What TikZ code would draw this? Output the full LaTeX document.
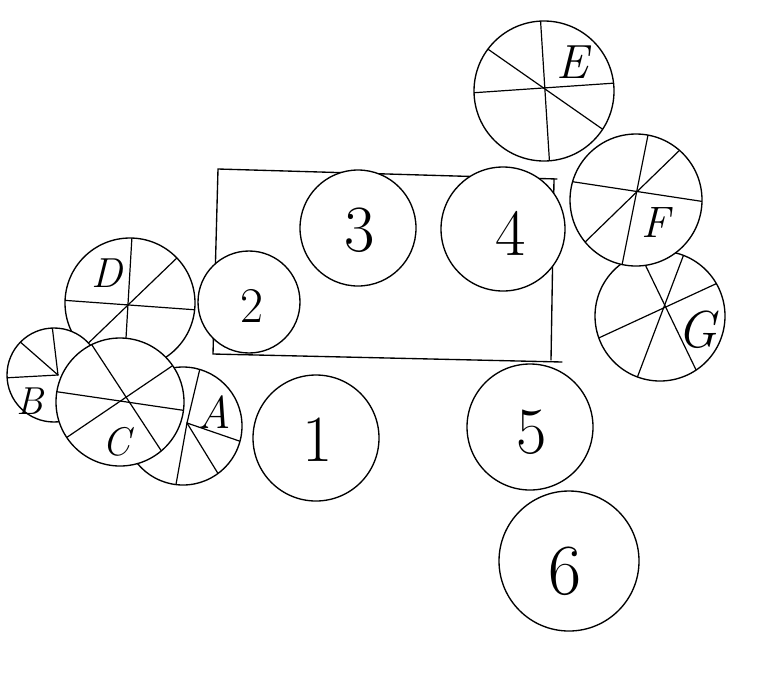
\documentclass[tikz,border=0pt]{standalone}
\begin{document}
\begin{tikzpicture}[x=1pt,y=-1pt,line width=1.35pt,line cap=round,
  ring/.style={circle,draw,fill=white,inner sep=0pt},
  num/.style={inner sep=0pt,font=\fontsize{66}{66}\selectfont},
  lett/.style={inner sep=0pt,font=\itshape\fontsize{42}{42}\selectfont},
  spoke/.style={line width=1.2pt}]
\useasboundingbox (0,0) rectangle (770,681);
% frame
\coordinate (r1) at (218,169);
\coordinate (r2) at (557,179);
\coordinate (r3) at (554,179);
\coordinate (r4) at (551,360);
\coordinate (r5) at (562,362);
\coordinate (r6) at (213,354);
\draw (r5) -- (r6) -- (r1) -- (r2);
\draw (r3) -- (r4);
% plain circles
\node[ring,minimum size=126pt] (c1) at (316,438) {};
\node[num] (t1) at (318,440) {1};
\node[ring,minimum size=102pt] (c2) at (249,302) {};
\node[num,font=\fontsize{50}{50}\selectfont] (t2) at (252,306) {2};
\node[ring,minimum size=116pt] (c3) at (358,228) {};
\node[num] (t3) at (360,230) {3};
\node[ring,minimum size=124pt] (c4) at (503,229) {};
\node[num] (t4) at (511,233) {4};
\node[ring,minimum size=126pt] (c5) at (530,427) {};
\node[num] (t5) at (532,432) {5};
\node[ring,minimum size=140pt] (c6) at (569,561) {};
\node[num,font=\fontsize{72}{72}\selectfont] (t6) at (565,571) {6};
% D
\node[ring,minimum size=130pt] (D) at (130,303) {};
\begin{scope}
\clip (130,303) circle (65pt);
\draw[spoke] (132,236) -- (124,372);
\draw[spoke] (60,300) -- (198,310);
\draw[spoke] (180,255) -- (76,355);
\end{scope}
\node[lett,font=\itshape\fontsize{42}{42}\selectfont] (lD) at (107,273) {D};
% B
\node[ring,minimum size=94pt] (B) at (54,375) {};
\begin{scope}
\clip (54,375) circle (47pt);
\draw[spoke] (58,375) -- (3,378);
\draw[spoke] (58,375) -- (18,340);
\draw[spoke] (58,375) -- (52,325);
\end{scope}
\node[lett,font=\itshape\fontsize{39}{39}\selectfont] (lB) at (30,401) {B};
% A
\node[ring,minimum size=118pt] (A) at (183,426) {};
\begin{scope}
\clip (183,426) circle (59pt);
\draw[spoke] (187,423) -- (202,360);
\draw[spoke] (187,423) -- (248,444);
\draw[spoke] (187,423) -- (222,480);
\draw[spoke] (187,423) -- (175,490);
\end{scope}
\node[lett,font=\itshape\fontsize{46}{46}\selectfont] (lA) at (214,412) {A};
% C
\node[ring,minimum size=128pt] (C) at (120,402) {};
\begin{scope}
\clip (120,402) circle (64pt);
\draw[spoke] (88,339) -- (166,458);
\draw[spoke] (52,391) -- (188,411);
\draw[spoke] (178,362) -- (60,442);
\end{scope}
\node[lett,font=\itshape\fontsize{40}{40}\selectfont] (lC) at (116,442) {C};
% E
\node[ring,minimum size=140pt] (E) at (544,91) {};
\begin{scope}
\clip (544,91) circle (70pt);
\draw[spoke] (540,12) -- (550,170);
\draw[spoke] (470,93) -- (616,83);
\draw[spoke] (482,45) -- (608,133);
\end{scope}
\node[lett,font=\itshape\fontsize{48}{48}\selectfont] (lE) at (572,62) {E};
% G
\node[ring,minimum size=130pt] (G) at (660,316) {};
\begin{scope}
\clip (660,316) circle (65pt);
\draw[spoke] (640,254) -- (699,376);
\draw[spoke] (687,246) -- (634,386);
\draw[spoke] (722,281) -- (590,342);
\end{scope}
\node[lett,font=\itshape\fontsize{52}{52}\selectfont] (lG) at (697,330) {G};
% F
\node[ring,minimum size=132pt] (F) at (636,200) {};
\begin{scope}
\clip (636,200) circle (66pt);
\draw[spoke] (649,130) -- (621,270);
\draw[spoke] (568,181) -- (706,202);
\draw[spoke] (684,146) -- (581,246);
\end{scope}
\node[lett,font=\itshape\fontsize{44}{44}\selectfont] (lF) at (656,223) {F};
\end{tikzpicture}
\end{document}
